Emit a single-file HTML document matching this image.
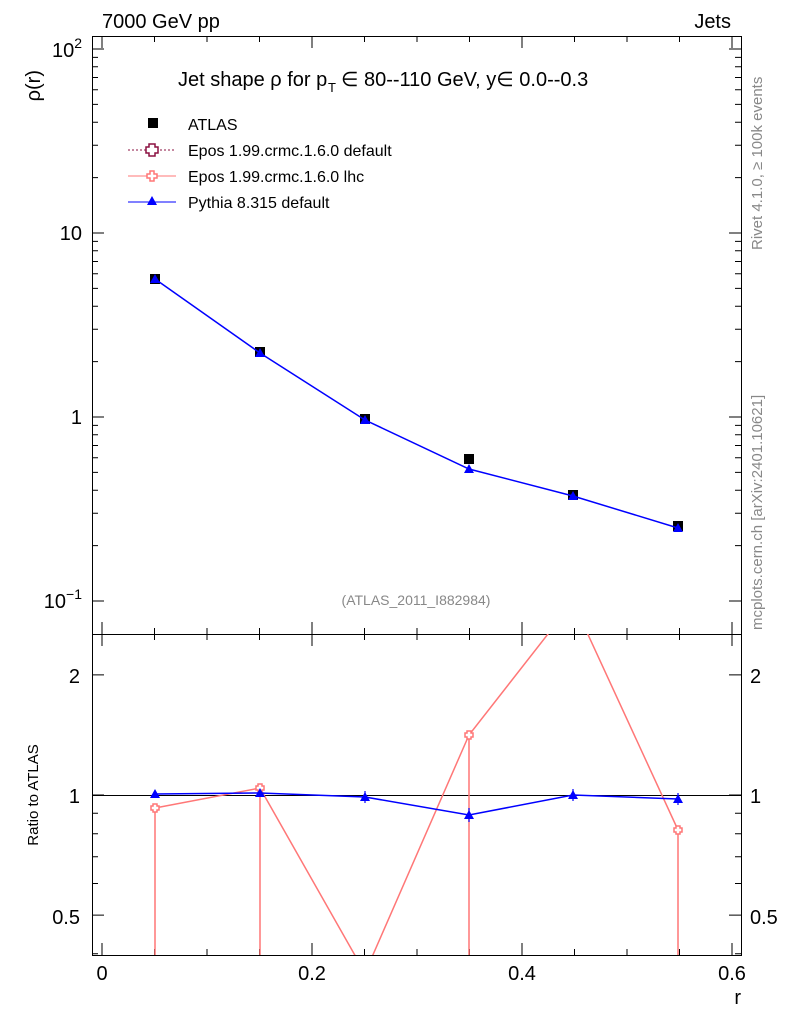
<!DOCTYPE html>
<html><head><meta charset="utf-8"><style>body{margin:0;background:#fff}svg{display:block}text{font-family:"Liberation Sans",sans-serif}</style></head><body>
<svg width="786" height="1024" viewBox="0 0 786 1024" xmlns="http://www.w3.org/2000/svg">
<defs>
<clipPath id="cm"><rect x="92" y="36" width="649" height="598"/></clipPath>
<clipPath id="cr"><rect x="92" y="634" width="649" height="321"/></clipPath>
</defs>
<g fill="none" stroke="#000" stroke-width="1">
<rect x="92.5" y="36.5" width="649" height="919"/>
<line x1="92" y1="634.5" x2="741" y2="634.5"/>
<!-- x ticks -->
<path d="M102 955v-12M154.5 955v-6M207 955v-6M259.5 955v-6M312 955v-12M364.5 955v-6M417 955v-6M469.5 955v-6M522 955v-12M574.5 955v-6M627 955v-6M679.5 955v-6M732 955v-12
M102 634v-12M154.5 634v-6M207 634v-6M259.5 634v-6M312 634v-12M364.5 634v-6M417 634v-6M469.5 634v-6M522 634v-12M574.5 634v-6M627 634v-6M679.5 634v-6M732 634v-12
M102 36v12M154.5 36v6M207 36v6M259.5 36v6M312 36v12M364.5 36v6M417 36v6M469.5 36v6M522 36v12M574.5 36v6M627 36v6M679.5 36v6M732 36v12
M102 634v12M154.5 634v6M207 634v6M259.5 634v6M312 634v12M364.5 634v6M417 634v6M469.5 634v6M522 634v12M574.5 634v6M627 634v6M679.5 634v6M732 634v12"/>
<!-- log y ticks left -->
<path d="M92 601h12M92 545.6h6M92 513.2h6M92 490.2h6M92 472.4h6M92 457.8h6M92 445.5h6M92 434.8h6M92 425.4h6
M92 417h12M92 361.6h6M92 329.2h6M92 306.2h6M92 288.4h6M92 273.8h6M92 261.5h6M92 250.8h6M92 241.4h6
M92 233h12M92 177.6h6M92 145.2h6M92 122.2h6M92 104.4h6M92 89.8h6M92 77.5h6M92 66.8h6M92 57.4h6M92 49h12
M741 601h-12M741 545.6h-6M741 513.2h-6M741 490.2h-6M741 472.4h-6M741 457.8h-6M741 445.5h-6M741 434.8h-6M741 425.4h-6
M741 417h-12M741 361.6h-6M741 329.2h-6M741 306.2h-6M741 288.4h-6M741 273.8h-6M741 261.5h-6M741 250.8h-6M741 241.4h-6
M741 233h-12M741 177.6h-6M741 145.2h-6M741 122.2h-6M741 104.4h-6M741 89.8h-6M741 77.5h-6M741 66.8h-6M741 57.4h-6M741 49h-12
M92 953.8h6M92 915.1h12M92 883.5h6M92 856.8h6M92 833.7h6M92 813.3h6M92 795h12M92 674.9h12
M741 953.8h-6M741 915.1h-12M741 883.5h-6M741 856.8h-6M741 833.7h-6M741 813.3h-6M741 795h-12M741 674.9h-12"/>
</g>
<text x="102" y="28" font-size="20">7000 GeV pp</text>
<text x="731" y="28" font-size="20" text-anchor="end">Jets</text>
<text x="178" y="86" font-size="20">Jet shape ρ for p</text><text x="328" y="92" font-size="13">T</text><text x="341" y="86" font-size="20">∈ 80--110 GeV, y∈ 0.0--0.3</text>
<text transform="translate(40,70) rotate(-90)" font-size="20" text-anchor="end">ρ(r)</text>
<text transform="translate(38,795) rotate(-90)" font-size="15" text-anchor="middle">Ratio to ATLAS</text>
<text x="741" y="1004" font-size="20" text-anchor="end">r</text>
<text transform="translate(762,250) rotate(-90)" font-size="15" fill="#888">Rivet 4.1.0, ≥ 100k events</text>
<text transform="translate(762,630) rotate(-90)" font-size="15" fill="#888">mcplots.cern.ch [arXiv:2401.10621]</text>
<text x="416" y="605" font-size="14" fill="#888" text-anchor="middle">(ATLAS_2011_I882984)</text>
<g font-size="20" text-anchor="end">
<text x="82" y="57">10<tspan font-size="14" dy="-9">2</tspan></text>
<text x="82" y="240">10</text>
<text x="82" y="424">1</text>
<text x="82" y="608">10<tspan font-size="14" dy="-9">−1</tspan></text>
<text x="80" y="683">2</text><text x="80" y="803">1</text><text x="80" y="924">0.5</text>
</g>
<g font-size="20" text-anchor="start">
<text x="750" y="683">2</text><text x="750" y="803">1</text><text x="750" y="924">0.5</text>
</g>
<g font-size="20" text-anchor="middle">
<text x="102" y="980">0</text><text x="312" y="980">0.2</text><text x="522" y="980">0.4</text><text x="732" y="980">0.6</text>
</g>
<!-- legend -->
<rect x="148" y="118" width="10" height="10" fill="#000"/>
<text x="188" y="130" font-size="16">ATLAS</text>
<line x1="128" y1="150" x2="176" y2="150" stroke="#8b1040" stroke-dasharray="2,2"/>
<path d="M149 144h6v3h3v6h-3v3h-6v-3h-3v-6h3z" fill="#fff" stroke="#8b1040" stroke-width="1.5"/>
<text x="188" y="156" font-size="16">Epos 1.99.crmc.1.6.0 default</text>
<line x1="128" y1="176" x2="176" y2="176" stroke="#f77"/>
<path d="M150 171h4v3h3v4h-3v3h-4v-3h-3v-4h3z" fill="#fff" stroke="#f77" stroke-width="1.5"/>
<text x="188" y="182" font-size="16">Epos 1.99.crmc.1.6.0 lhc</text>
<line x1="128" y1="202" x2="176" y2="202" stroke="#00f"/>
<path d="M152 196l5 9h-10z" fill="#00f"/>
<text x="188" y="208" font-size="16">Pythia 8.315 default</text>
<!-- main data -->
<g clip-path="url(#cm)">
<g fill="#000">
<rect x="150" y="274" width="10" height="10"/><rect x="255" y="347" width="10" height="10"/><rect x="360" y="414" width="10" height="10"/><rect x="464" y="454" width="10" height="10"/><rect x="568" y="490" width="10" height="10"/><rect x="673" y="521" width="10" height="10"/>
</g>
<polyline points="155,279 260,353 365,420 469,469 573,496 678,528" fill="none" stroke="#00f" stroke-width="1.5"/>
<g fill="#00f">
<path d="M155 274l5 9h-10z"/><path d="M260 348l5 9h-10z"/><path d="M365 415l5 9h-10z"/><path d="M469 464l5 9h-10z"/><path d="M573 491l5 9h-10z"/><path d="M678 523l5 9h-10z"/>
</g>
</g>
<!-- ratio -->
<g clip-path="url(#cr)">
<line x1="92" y1="795.5" x2="741" y2="795.5" stroke="#000"/>
<polyline points="155,808 260,788 365,973 469,735 573,602 678,830" fill="none" stroke="#f77" stroke-width="1.5"/>
<g stroke="#f77" stroke-width="1.5"><line x1="155" y1="808" x2="155" y2="960"/><line x1="260" y1="788" x2="260" y2="960"/><line x1="469" y1="735" x2="469" y2="960"/><line x1="678" y1="830" x2="678" y2="960"/></g>
<g fill="#fff" stroke="#f77" stroke-width="1.5">
<path d="M153 804h4v2h2v4h-2v2h-4v-2h-2v-4h2z"/><path d="M258 784h4v2h2v4h-2v2h-4v-2h-2v-4h2z"/><path d="M467 731h4v2h2v4h-2v2h-4v-2h-2v-4h2z"/><path d="M676 826h4v2h2v4h-2v2h-4v-2h-2v-4h2z"/>
</g>
<polyline points="155,794 260,793 365,797 469,815 573,795 678,799" fill="none" stroke="#00f" stroke-width="1.5"/>
<g stroke="#00f" stroke-width="1.2"><path d="M365 791v12M469 808v14M573 789v12M678 793v12"/></g>
<g fill="#00f">
<path d="M155 789l5 9h-10z"/><path d="M260 788l5 9h-10z"/><path d="M365 792l5 9h-10z"/><path d="M469 810l5 9h-10z"/><path d="M573 790l5 9h-10z"/><path d="M678 794l5 9h-10z"/>
</g>
</g>
</svg>
</body></html>
